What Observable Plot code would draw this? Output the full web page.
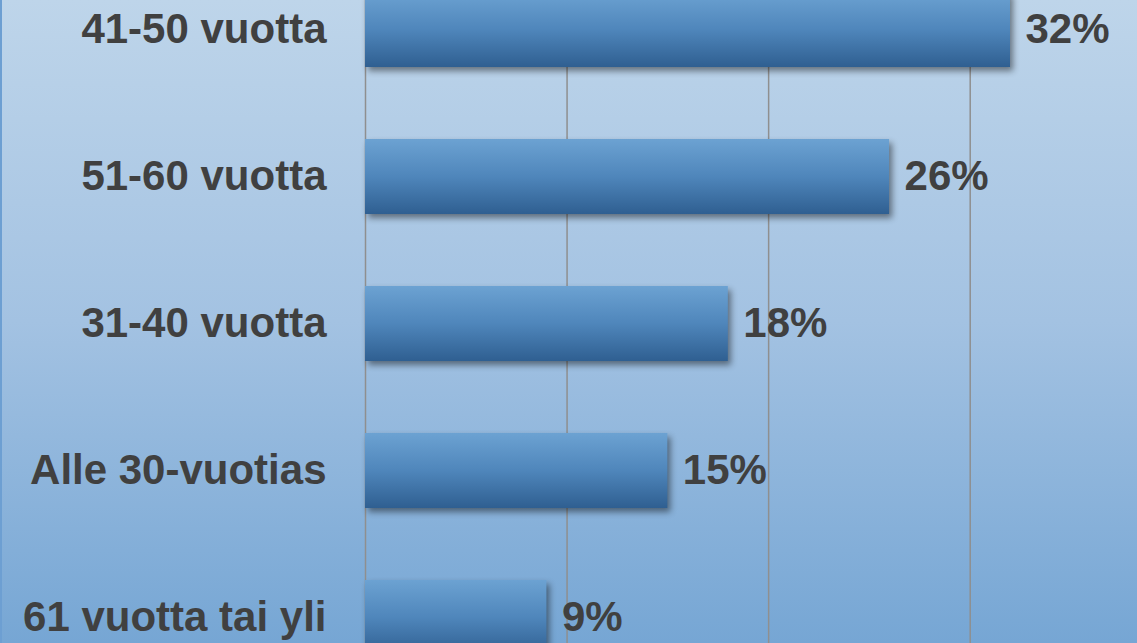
<!DOCTYPE html>
<html>
<head>
<meta charset="utf-8">
<script src="https://cdn.jsdelivr.net/npm/d3@7"></script>
<script src="https://cdn.jsdelivr.net/npm/@observablehq/plot@0.6"></script>
<style>
  html, body { margin: 0; padding: 0; }
  #wrap {
    width: 1137px; height: 643px; overflow: hidden; position: relative;
    background: linear-gradient(to bottom, #bed5ea 0%, #a3c2e2 50%, #76a6d4 100%);
    box-shadow: inset 2px 0 0 #6d9fd2;
  }
  #wrap svg { display: block; }
</style>
</head>
<body>
<div id="wrap"></div>
<script>
const categories = ["41-50 vuotta", "51-60 vuotta", "31-40 vuotta", "Alle 30-vuotias", "61 vuotta tai yli"];
const values = [32, 26, 18, 15, 9];
const valueLabels = ["32%", "26%", "18%", "15%", "9%"];
const gridTicks = [0, 10, 20, 30];

const data = categories.map((c, i) => ({category: c, value: values[i], label: valueLabels[i]}));

const font = "'Liberation Sans', Arial, Helvetica, sans-serif";

const chart = Plot.plot({
  width: 1137,
  height: 643,
  marginLeft: 365,
  marginRight: 0,
  marginTop: 0,
  marginBottom: 0,
  style: {background: "transparent", fontFamily: font, overflow: "hidden"},
  x: {domain: [0, 38.3], axis: null},
  y: {domain: categories, range: [-82, 728], padding: 0.49, label: null},
  marks: [
    Plot.gridX(gridTicks, {stroke: "#8f8f8f", strokeOpacity: 1, strokeWidth: 1.5}),
    Plot.barX(data, {x: "value", y: "category", fill: "url(#barGrad)"}),
    Plot.text(data, {
      x: "value", y: "category", text: "label", dx: 15, textAnchor: "start",
      fontSize: 42, fontWeight: "bold", fill: "#404040"
    }),
    Plot.axisY({
      tickSize: 0, tickPadding: 39, fontSize: 42, fontWeight: "bold",
      fill: "#404040", label: null
    })
  ]
});

const ns = "http://www.w3.org/2000/svg";
const defs = document.createElementNS(ns, "defs");
const grad = document.createElementNS(ns, "linearGradient");
grad.setAttribute("id", "barGrad");
grad.setAttribute("x1", "0"); grad.setAttribute("y1", "0");
grad.setAttribute("x2", "0"); grad.setAttribute("y2", "1");
[["0%", "#6ca2d2"], ["50%", "#4f86bb"], ["100%", "#2f5f91"]].forEach(([o, c]) => {
  const s = document.createElementNS(ns, "stop");
  s.setAttribute("offset", o); s.setAttribute("stop-color", c);
  grad.appendChild(s);
});
defs.appendChild(grad);
chart.insertBefore(defs, chart.firstChild);

chart.querySelectorAll("g[aria-label='bar']").forEach(g => {
  g.style.filter = "drop-shadow(3px 4px 3px rgba(0,0,0,0.45))";
});

document.getElementById("wrap").appendChild(chart);
</script>
</body>
</html>
